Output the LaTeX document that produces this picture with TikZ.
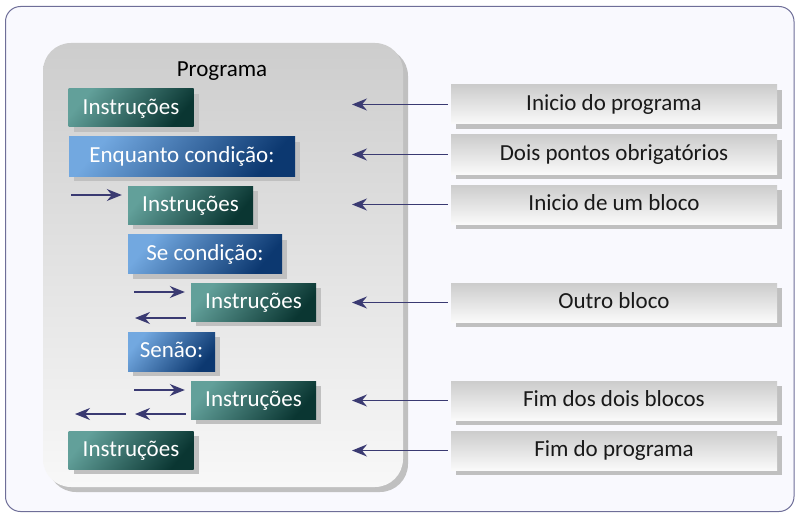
\documentclass[tikz,border=0pt]{standalone}
\usepackage{fontspec}
\setmainfont{Carlito}
\usetikzlibrary{shadows,arrows.meta}
\definecolor{frameline}{HTML}{6E6E98}
\definecolor{framefill}{HTML}{F9F9FE}
\definecolor{greenA}{HTML}{62A09A}
\definecolor{greenB}{HTML}{0A3632}
\definecolor{blueA}{HTML}{72A8E0}
\definecolor{blueB}{HTML}{0C3870}
\definecolor{greyA}{HTML}{CCCCCC}
\definecolor{greyB}{HTML}{FAFAFA}
\definecolor{panelA}{HTML}{CDCDCD}
\definecolor{panelB}{HTML}{F8F8F8}
\definecolor{shadowc}{HTML}{C0C0C0}
\definecolor{arrowc}{HTML}{3A3A72}
\tikzset{
  boxshadow/.style={drop shadow={shadow xshift=5pt,shadow yshift=-5pt,fill=shadowc,opacity=1}},
  bigtext/.style={font=\fontsize{23}{26}\selectfont,text height=14.5pt,text depth=2.5pt},
  codebox/.style={rectangle,inner sep=0pt,minimum height=38pt,text=white,
    bigtext,boxshadow},
  greenbox/.style={codebox,top color=greenA,bottom color=greenB,shading angle=50,minimum width=125pt},
  bluebox/.style={codebox,top color=blueA,bottom color=blueB,shading angle=50,minimum height=39pt},
  notebox/.style={rectangle,inner sep=0pt,minimum width=326pt,minimum height=39pt,
    top color=greyA,bottom color=greyB,text=black!90,bigtext,boxshadow},
  arr/.style={draw=arrowc,line width=1.2pt,-{Stealth[length=15pt,width=12pt,inset=5pt]}}
}
\begin{document}
\begin{tikzpicture}[x=1pt,y=-1pt]
\useasboundingbox (0,0) rectangle (800,516);
% outer frame
\draw[frameline,fill=framefill,line width=1pt,rounded corners=15pt] (5.5,6.5) rectangle (794,511.5);
% panel
\fill[shadowc,rounded corners=28pt] (48,48) rectangle (408,492);
\shade[top color=panelA,bottom color=panelB,rounded corners=28pt] (43,43) rectangle (403,487);
\node[bigtext,inner sep=0pt] (prog) at (222,71) {Programa};
% code boxes
\node[greenbox] (i1) at (131,108) {Instruções};
\node[bluebox,minimum width=226pt] (enq) at (182,156.5) {Enquanto condição:};
\node[greenbox] (i2) at (190.5,205) {Instruções};
\node[bluebox,minimum width=154pt] (se) at (205,254) {Se condição:};
\node[greenbox] (i3) at (253.5,302) {Instruções};
\node[bluebox,minimum width=87pt] (senao) at (171.5,351.5) {Senão:};
\node[greenbox] (i4) at (253.5,400) {Instruções};
\node[greenbox] (i5) at (131,450) {Instruções};
% note boxes
\node[notebox] (n1) at (614,104.5) {Inicio do programa};
\node[notebox] (n2) at (614,154.5) {Dois pontos obrigatórios};
\node[notebox] (n3) at (614,204.5) {Inicio de um bloco};
\node[notebox] (n4) at (614,302.5) {Outro bloco};
\node[notebox] (n5) at (614,400.5) {Fim dos dois blocos};
\node[notebox] (n6) at (614,450.5) {Fim do programa};
% free ends of pointer arrows
\coordinate (p1) at (352,104.5);
\coordinate (p2) at (352,154.5);
\coordinate (p3) at (352,204.5);
\coordinate (p4) at (352,302.5);
\coordinate (p5) at (352,400.5);
\coordinate (p6) at (352,450.5);
\foreach \k in {1,...,6}{
  \draw[arr] ([xshift=-3pt]n\k.west) -- (p\k);
}
% block arrows
\coordinate (a1s) at (71,195);
\draw[arr] (a1s) -- ([xshift=-6pt]i2.west |- a1s);
\coordinate (a2s) at (134,292);
\draw[arr] (a2s) -- ([xshift=-6pt]i3.west |- a2s);
\coordinate (a3e) at (135,318);
\draw[arr] ([xshift=-5pt]i3.west |- a3e) -- (a3e);
\coordinate (a4s) at (134,390);
\draw[arr] (a4s) -- ([xshift=-6pt]i4.west |- a4s);
\coordinate (a5e) at (135,414);
\draw[arr] ([xshift=-5pt]i4.west |- a5e) -- (a5e);
\coordinate (a6s) at (126,414);
\coordinate (a6e) at (75,414);
\draw[arr] (a6s) -- (a6e);
\end{tikzpicture}
\end{document}
